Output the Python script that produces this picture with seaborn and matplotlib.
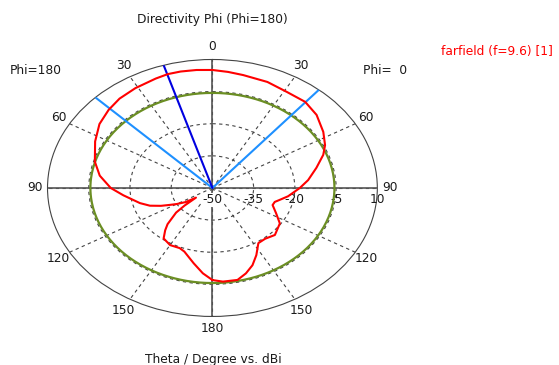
import numpy as np
import pandas as pd
import matplotlib
matplotlib.use("Agg")
import matplotlib.pyplot as plt
import seaborn as sns

# ---------------------------
# Data (theta in degrees, + = Phi 0 side, - = Phi 180 side)
# ---------------------------
theta_deg = [-180, -175, -169, -161, -157, -150, -143, -139, -136, -131, -129, -127,
             -124, -120, -117, -114, -110, -105, -96, -90, -82, -74, -63, -54, -46,
             -39, -31, -22, -17, -12, -6, 0, 6, 12, 22, 31, 40, 48, 57, 64, 69, 76,
             84, 90, 98, 103, 106, 110, 117, 124, 134, 141, 147, 153, 158, 163, 168,
             175, 180]
directivity_dbi = [-7.0, -10.0, -14.2, -18.6, -19.5, -19.2, -20.5, -23.8, -26.5, -32.5,
                   -37.0, -42.5, -38.2, -35.0, -32.6, -29.5, -25.8, -22.7, -17.4, -13.0,
                   -8.6, -5.5, -2.1, 0.8, 2.5, 3.7, 4.4, 5.1, 5.6, 5.6, 5.4, 5.1, 4.5,
                   3.9, 3.4, 2.4, 2.5, 1.0, -1.9, -4.4, -6.8, -11.0, -15.0, -18.2, -22.2,
                   -25.0, -26.4, -26.7, -24.0, -20.4, -18.4, -19.5, -19.3, -14.8, -11.1,
                   -8.3, -6.1, -6.1, -7.0]

ref_level_dbi = -5.6            # green reference circle
main_lobe_deg = -17.2           # main lobe direction
beam_edges_deg = [-45.2, 40.2]  # 3 dB angular width

r_min, r_max = -50, 10
r_ticks = [-50, -35, -20, -5, 10]
angle_ticks = [0, 30, 60, 90, 120, 150, 180, 210, 240, 270, 300, 330]
angle_labels = ["0", "30", "60", "90", "120", "150", "180", "150", "120", "90", "60", "30"]

FS = 8.8
TXT = "#1a1a1a"

sns.set_style("white")
plt.rcParams["font.family"] = ["DejaVu Sans"]

fig = plt.figure(figsize=(5.59, 3.65), dpi=100)
ax = fig.add_axes([0.085, 0.133, 0.590, 0.704], projection="polar")
ax.set_theta_zero_location("N")
ax.set_theta_direction(-1)
ax.set_aspect("auto")
ax.set_rlim(r_min, r_max)

# grid
ax.set_xticks(np.radians(angle_ticks))
ax.set_xticklabels(angle_labels, fontsize=FS, color=TXT)
ax.tick_params(axis="x", pad=-1.5)
ax.set_yticks(r_ticks[1:-1])
ax.set_yticklabels([])
ax.grid(True, ls=(0, (3, 3)), color="#444", lw=0.8)
ax.spines["polar"].set_color("#444")
ax.spines["polar"].set_linewidth(0.8)
for a in [0, 90, 180, 270]:
    ax.axvline(np.radians(a), color="#555", lw=1.2, zorder=2)

# radial tick labels along the horizontal axis
for r in r_ticks:
    ax.annotate(str(r), xy=(np.pi / 2, r), xytext=(0, -12), textcoords="offset pixels",
                ha="center", va="center", fontsize=FS, color=TXT, zorder=3,
                bbox=dict(facecolor="white", edgecolor="none", pad=0.5) if r == r_min else None)

# curves
circle = pd.DataFrame({"theta": np.radians(np.linspace(-180, 180, 361)),
                       "r": ref_level_dbi})
sns.lineplot(data=circle, x="theta", y="r", sort=False, ax=ax, color="#6b8e23", lw=1.6, zorder=4)

pattern = pd.DataFrame({"theta": np.radians(theta_deg), "r": directivity_dbi})
for e in beam_edges_deg:
    ax.axvline(np.radians(e), color="#1e90ff", lw=1.5, zorder=5)
ax.axvline(np.radians(main_lobe_deg), color="#0000e0", lw=1.5, zorder=5)
sns.lineplot(data=pattern, x="theta", y="r", sort=False, ax=ax, color="red", lw=1.5, zorder=6)

ax.set_xlabel("")
ax.set_ylabel("")
ax.set_rlim(r_min, r_max)

# texts
fig.text(212.5 / 559, 1 - 19 / 365, "Directivity Phi (Phi=180)", ha="center", va="center", fontsize=FS, color=TXT)
fig.text(36 / 559, 1 - 71 / 365, "Phi=180", ha="center", va="center", fontsize=FS, color=TXT)
fig.text(385 / 559, 1 - 71 / 365, "Phi=  0", ha="center", va="center", fontsize=FS, color=TXT)
fig.text(497 / 559, 1 - 52 / 365, "farfield (f=9.6) [1]", ha="center", va="center", fontsize=FS, color="red")
fig.text(213.5 / 559, 1 - 359 / 365, "Theta / Degree vs. dBi", ha="center", va="center", fontsize=FS, color=TXT)

fig.savefig("out.png", dpi=100)
